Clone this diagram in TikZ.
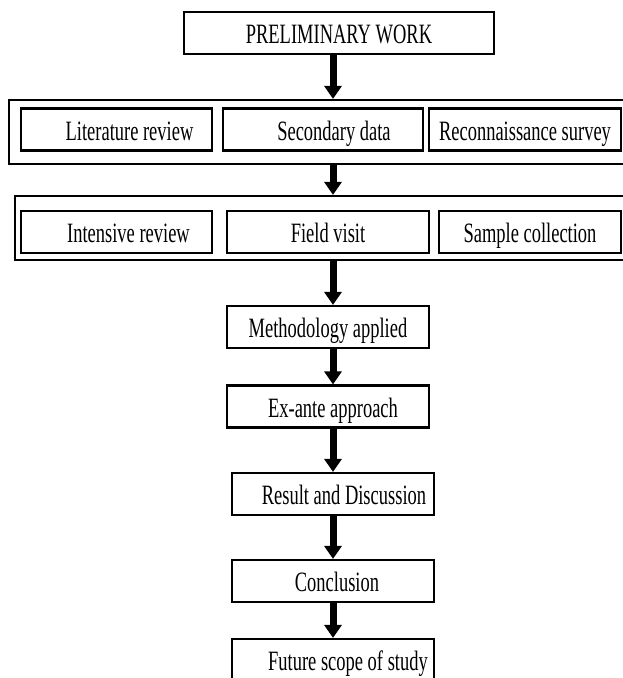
\documentclass[tikz,border=0pt]{standalone}
\usepackage{fontspec}
\setmainfont{Liberation Serif}[FakeStretch=0.66]
\usetikzlibrary{arrows.meta}

\begin{document}
\begin{tikzpicture} [x=1pt, y=-1pt,
        procbox/.style={draw, line width=2.2pt, rectangle, inner sep=2pt, minimum height=42pt, text height=23pt, text depth=2pt, font=\fontsize{28}{32}\selectfont},
        groupbox/.style={draw, line width=2.2pt, rectangle, minimum height=64pt},
        flow/.style={line width=7pt, -{Triangle[width=17pt, length=13pt]}}]
        \clip (0,0) rectangle (623,678);
        \coordinate (axis) at (333,0);

        % top box
        \node[procbox, minimum width=310pt] (prelim) at (339,33) {PRELIMINARY WORK};

        % first group
        \node[groupbox, minimum width=631pt] (stageone) at (324.5,132) {};
        \node[procbox, minimum width=191pt] (lit) at (116.5,129.5) {\hspace*{26pt}Literature review};
        \node[procbox, minimum width=200pt] (sec) at (323,129.5) {\hspace*{22pt}Secondary data};
        \node[procbox, minimum width=192pt] (recon) at (525,129.5) {Reconnaissance survey};

        % second group
        \node[groupbox, minimum width=625pt] (stagetwo) at (327.5,228) {};
        \node[procbox, minimum width=191pt] (intens) at (116.5,232) {\hspace*{24pt}Intensive review};
        \node[procbox, minimum width=202pt] (field) at (328,232) {Field visit};
        \node[procbox, minimum width=182pt] (sample) at (530,232) {Sample collection};

        % chain
        \node[procbox, minimum width=202pt] (method) at (328,327) {Methodology applied};
        \node[procbox, minimum width=202pt] (exante) at (328,406.5) {\hspace*{10pt}Ex-ante approach};
        \node[procbox, minimum width=202pt] (result) at (333,494) {\hspace*{22pt}Result and Discussion};
        \node[procbox, minimum width=202pt] (concl) at (333,581) {\hspace*{8pt}Conclusion};
        \node[procbox, minimum width=202pt] (future) at (333,660) {\hspace*{30pt}Future scope of study};

        \draw[flow] (prelim.south -| axis) -- (stageone.north -| axis);
        \draw[flow] (stageone.south -| axis) -- (stagetwo.north -| axis);
        \draw[flow] (stagetwo.south -| axis) -- (method.north -| axis);
        \draw[flow] (method.south -| axis) -- (exante.north -| axis);
        \draw[flow] (exante.south -| axis) -- (result.north -| axis);
        \draw[flow] (result.south -| axis) -- (concl.north -| axis);
        \draw[flow] (concl.south -| axis) -- (future.north -| axis);
    \end{tikzpicture}
\end{document}
